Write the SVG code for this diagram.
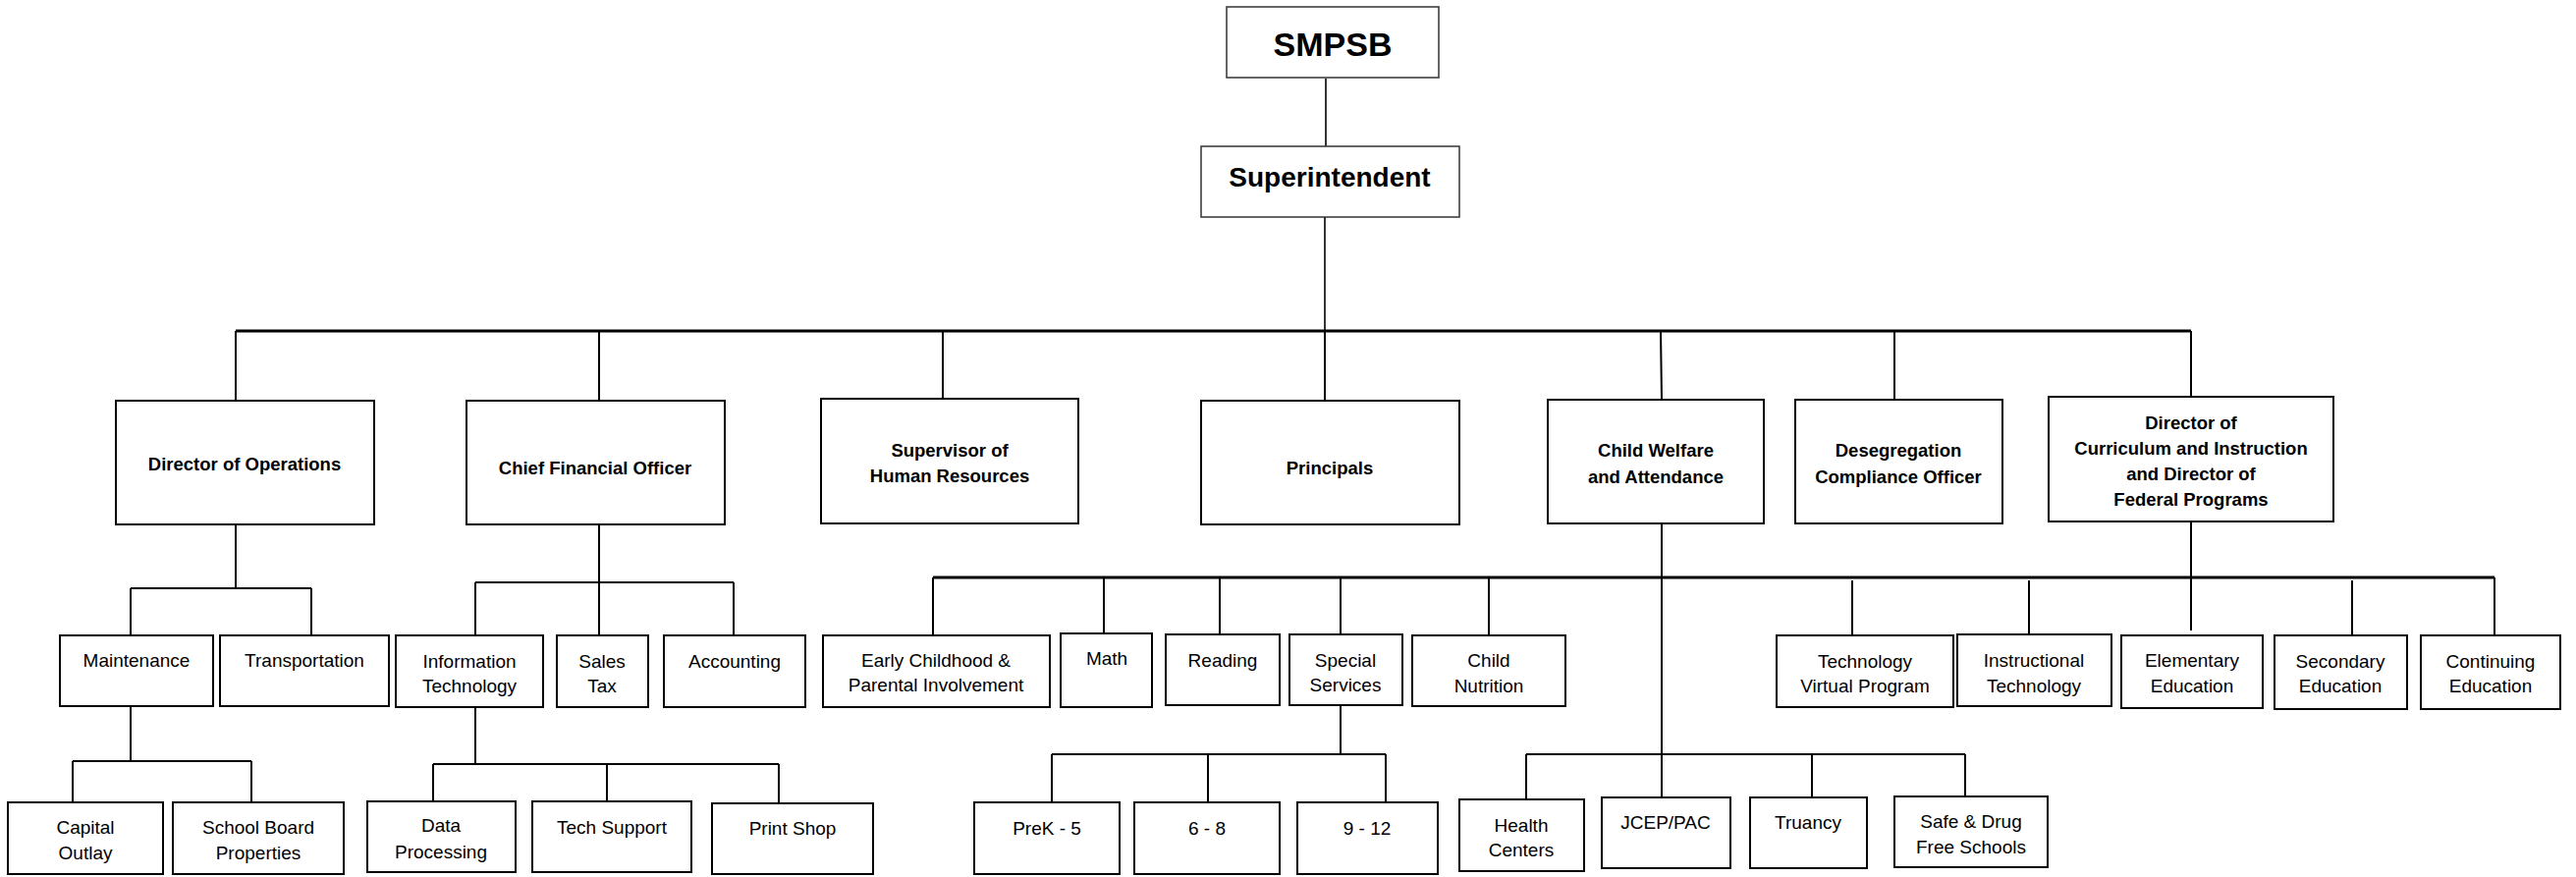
<svg xmlns="http://www.w3.org/2000/svg" width="2623" height="893" viewBox="0 0 2623 893">
<style>
.bg{fill:#ffffff}
.top rect{fill:#fff;stroke:#333;stroke-width:1.5}
.box rect{fill:#fff;stroke:#000;stroke-width:2}
text{font-family:"Liberation Sans",Arial,sans-serif;text-anchor:middle;dominant-baseline:central;fill:#000}
.t1{font-size:34px;font-weight:bold}
.t2{font-size:28px;font-weight:bold}
.b{font-size:18.5px;font-weight:bold}
.r{font-size:19px}
#connectors path{fill:none;stroke:#000;stroke-width:2}
#connectors .thin{stroke-width:1.6}
#connectors .bus{stroke-width:3}
</style>
<rect class="bg" x="0" y="0" width="2623" height="893"/>
<g id="connectors">
<path class="thin" d="M1350 80V149"/>
<path class="thin" d="M1349 221V337"/>
<path class="bus" d="M240 337H2231"/>
<path d="M240 337V408M610 337V408M960 337V406M1349 337V408M1691 337L1692 407M1929 337V407M2231 337V404"/>
<path d="M240 534V599M133 599H317M133 599V647M317 599V647"/>
<path d="M133 719V775M74 775H256M74 775V817M256 775V817"/>
<path d="M610 534V593M484 593H747M484 593V647M610 593V647M747 593V647"/>
<path d="M484 720V778M441 778H793M441 778V816M618 778V816M793 778V818"/>
<path d="M1692 533V812"/>
<path class="bus" d="M950 588H2540"/>
<path d="M950 588V647M1124 588V645M1242 588V646M1365 588V646M1516 588V647M1886 591V647M2066 591V646M2231 531V642M2395 591V647M2540 588V647"/>
<path d="M1365 718V768M1071 768H1411M1071 768V817M1230 768V817M1411 768V817"/>
<path d="M1554 768H2001M1554 768V814M1845 768V812M2001 768V811"/>
</g>
<g id="smpsb" class="top"><rect x="1249" y="7" width="216" height="72"/><text class="t1" x="1357" y="45">SMPSB</text></g>
<g id="superintendent" class="top"><rect x="1223" y="149" width="263" height="72"/><text class="t2" x="1354" y="180">Superintendent</text></g>
<g id="dir-ops" class="box"><rect x="118" y="408" width="263" height="126"/><text class="b" x="249" y="472">Director of Operations</text></g>
<g id="cfo" class="box"><rect x="475" y="408" width="263" height="126"/><text class="b" x="606" y="476">Chief Financial Officer</text></g>
<g id="hr" class="box"><rect x="836" y="406" width="262" height="127"/><text class="b" x="967" y="458">Supervisor of</text><text class="b" x="967" y="484">Human Resources</text></g>
<g id="principals" class="box"><rect x="1223" y="408" width="263" height="126"/><text class="b" x="1354" y="476">Principals</text></g>
<g id="child-welfare" class="box"><rect x="1576" y="407" width="220" height="126"/><text class="b" x="1686" y="458">Child Welfare</text><text class="b" x="1686" y="485">and Attendance</text></g>
<g id="deseg" class="box"><rect x="1828" y="407" width="211" height="126"/><text class="b" x="1933" y="458">Desegregation</text><text class="b" x="1933" y="485">Compliance Officer</text></g>
<g id="dir-curr" class="box"><rect x="2086" y="404" width="290" height="127"/><text class="b" x="2231" y="430">Director of</text><text class="b" x="2231" y="456">Curriculum and Instruction</text><text class="b" x="2231" y="482">and Director of</text><text class="b" x="2231" y="508">Federal Programs</text></g>
<g id="maintenance" class="box"><rect x="61" y="647" width="156" height="72"/><text class="r" x="139" y="672">Maintenance</text></g>
<g id="transportation" class="box"><rect x="224" y="647" width="172" height="72"/><text class="r" x="310" y="672">Transportation</text></g>
<g id="it" class="box"><rect x="403" y="647" width="150" height="73"/><text class="r" x="478" y="673">Information</text><text class="r" x="478" y="698">Technology</text></g>
<g id="sales-tax" class="box"><rect x="567" y="647" width="93" height="73"/><text class="r" x="613" y="673">Sales</text><text class="r" x="613" y="698">Tax</text></g>
<g id="accounting" class="box"><rect x="676" y="647" width="144" height="73"/><text class="r" x="748" y="673">Accounting</text></g>
<g id="early-childhood" class="box"><rect x="838" y="647" width="231" height="73"/><text class="r" x="953" y="672">Early Childhood &amp;</text><text class="r" x="953" y="697">Parental Involvement</text></g>
<g id="math" class="box"><rect x="1080" y="645" width="93" height="75"/><text class="r" x="1127" y="670">Math</text></g>
<g id="reading" class="box"><rect x="1187" y="646" width="116" height="72"/><text class="r" x="1245" y="672">Reading</text></g>
<g id="special-services" class="box"><rect x="1313" y="646" width="115" height="72"/><text class="r" x="1370" y="672">Special</text><text class="r" x="1370" y="697">Services</text></g>
<g id="child-nutrition" class="box"><rect x="1438" y="647" width="156" height="72"/><text class="r" x="1516" y="672">Child</text><text class="r" x="1516" y="698">Nutrition</text></g>
<g id="tech-virtual" class="box"><rect x="1809" y="647" width="180" height="73"/><text class="r" x="1899" y="673">Technology</text><text class="r" x="1899" y="698">Virtual Program</text></g>
<g id="instr-tech" class="box"><rect x="1993" y="646" width="157" height="73"/><text class="r" x="2071" y="672">Instructional</text><text class="r" x="2071" y="698">Technology</text></g>
<g id="elementary" class="box"><rect x="2160" y="647" width="144" height="74"/><text class="r" x="2232" y="672">Elementary</text><text class="r" x="2232" y="698">Education</text></g>
<g id="secondary" class="box"><rect x="2316" y="647" width="135" height="75"/><text class="r" x="2383" y="673">Secondary</text><text class="r" x="2383" y="698">Education</text></g>
<g id="continuing" class="box"><rect x="2465" y="647" width="142" height="75"/><text class="r" x="2536" y="673">Continuing</text><text class="r" x="2536" y="698">Education</text></g>
<g id="capital-outlay" class="box"><rect x="8" y="817" width="158" height="73"/><text class="r" x="87" y="842">Capital</text><text class="r" x="87" y="868">Outlay</text></g>
<g id="school-board" class="box"><rect x="176" y="817" width="174" height="73"/><text class="r" x="263" y="842">School Board</text><text class="r" x="263" y="868">Properties</text></g>
<g id="data-processing" class="box"><rect x="374" y="816" width="151" height="72"/><text class="r" x="449" y="840">Data</text><text class="r" x="449" y="867">Processing</text></g>
<g id="tech-support" class="box"><rect x="542" y="816" width="162" height="72"/><text class="r" x="623" y="842">Tech Support</text></g>
<g id="print-shop" class="box"><rect x="725" y="818" width="164" height="72"/><text class="r" x="807" y="843">Print Shop</text></g>
<g id="prek5" class="box"><rect x="992" y="817" width="148" height="73"/><text class="r" x="1066" y="843">PreK - 5</text></g>
<g id="g6-8" class="box"><rect x="1155" y="817" width="148" height="73"/><text class="r" x="1229" y="843">6 - 8</text></g>
<g id="g9-12" class="box"><rect x="1321" y="817" width="143" height="73"/><text class="r" x="1392" y="843">9 - 12</text></g>
<g id="health-centers" class="box"><rect x="1486" y="814" width="127" height="73"/><text class="r" x="1549" y="840">Health</text><text class="r" x="1549" y="865">Centers</text></g>
<g id="jcep" class="box"><rect x="1631" y="812" width="131" height="72"/><text class="r" x="1696" y="837">JCEP/PAC</text></g>
<g id="truancy" class="box"><rect x="1782" y="812" width="119" height="72"/><text class="r" x="1841" y="837">Truancy</text></g>
<g id="safe-drug" class="box"><rect x="1929" y="811" width="156" height="72"/><text class="r" x="2007" y="836">Safe &amp; Drug</text><text class="r" x="2007" y="862">Free Schools</text></g>
</svg>
